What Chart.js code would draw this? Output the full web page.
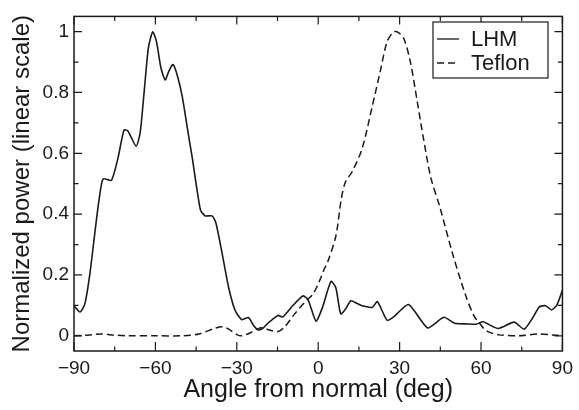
<!DOCTYPE html>
<html>
<head>
<meta charset="utf-8">
<script src="https://cdn.jsdelivr.net/npm/chart.js@4.4.0/dist/chart.umd.min.js"></script>
<style>
    html, body { margin: 0; padding: 0; background: #fff; }
    #wrap { width: 579px; height: 410px; }
</style>
</head>
<body>
<div id="wrap"><canvas id="beamChart"></canvas></div>
<script>
    // Measured beam profiles (angle in degrees, normalized power)
    const lhmAngles = [-90, -87.8, -86, -84.2, -82.3, -80.8, -79.3, -76.2, -73.8, -71.6, -70.2, -67.1, -65.6, -64.1, -62.6, -61,
        -59.6, -58, -56.4, -55, -53.5, -51.9, -50.1, -47.6, -46.4, -43.4, -41.6, -39.1, -37.7, -35.5, -33, -30.6,
        -28.2, -25.7, -23.9, -22.1, -20.3, -18.4, -17.2, -14.8, -13, -9.9, -5.7, -3.8, -0.8, 1.6, 4.7, 6.5, 8.3,
        10.1, 12, 14.4, 16.2, 19.9, 21.8, 25.4, 27.8, 33.3, 40.3, 46.3, 50.3, 55, 58.2, 60.7, 66.3, 72.2, 75.9,
        78.9, 81.5, 83.8, 86, 88, 90];
    const lhmPower = [0.099, 0.078, 0.105, 0.20, 0.34, 0.445, 0.516, 0.511, 0.584, 0.676, 0.674, 0.623, 0.669, 0.807, 0.946, 0.999,
        0.967, 0.882, 0.841, 0.871, 0.892, 0.855, 0.786, 0.648, 0.584, 0.413, 0.394, 0.394, 0.371, 0.275, 0.158, 0.083,
        0.053, 0.060, 0.035, 0.019, 0.025, 0.043, 0.051, 0.067, 0.062, 0.094, 0.131, 0.120, 0.048, 0.094, 0.179, 0.158, 0.072,
        0.088, 0.115, 0.106, 0.099, 0.093, 0.112, 0.051, 0.062, 0.103, 0.026, 0.061, 0.041, 0.039, 0.038, 0.046, 0.024, 0.045, 0.022,
        0.057, 0.095, 0.099, 0.085, 0.102, 0.15];

    const teflonAngles = [-90, -85, -80, -75, -70, -60, -50, -44, -38, -35.5, -33, -30, -28.2, -25, -23.3, -20.5, -18.4,
        -14.8, -12.3, -8.7, -5, -2, 0.4, 2.3, 3.5, 6.5, 8.5, 10, 12.6, 16.2, 19.9, 22.9, 25.4, 27.8, 29.6, 31.5,
        33.9, 36.4, 38.8, 41.5, 44.8, 49.7, 54.6, 57.6, 59.5, 61.3, 63, 66.7, 74, 81.3, 86, 90];
    const teflonPower = [0, 0.002, 0.006, 0.002, 0, 0, 0, 0.006, 0.025, 0.030, 0.022, 0.004, 0, 0.010, 0.019, 0.027, 0.020,
        0.014, 0.030, 0.072, 0.110, 0.136, 0.179, 0.221, 0.243, 0.328, 0.45, 0.505, 0.541, 0.616, 0.754, 0.871, 0.967, 0.999, 0.997, 0.978,
        0.903, 0.775, 0.648, 0.52, 0.424, 0.264, 0.126, 0.062, 0.041, 0.021, 0.012, 0.003, 0, 0.006, 0.003, 0];

    const xTicks = [-90, -60, -30, 0, 30, 60, 90];
    const xTickLabels = ['\u221290', '\u221260', '\u221230', '0', '30', '60', '90'];
    const yTicks = [0, 0.2, 0.4, 0.6, 0.8, 1];
    const yTickLabels = ['0', '0.2', '0.4', '0.6', '0.8', '1'];

    const FONT = '"Liberation Sans", Arial, Helvetica, sans-serif';
    const INK = '#1a1a1a';

    function toPoints(xs, ys) {
        return xs.map((x, i) => ({ x: x, y: ys[i] }));
    }

    // Frame with inward major/minor ticks on all four sides, plus boxed legend
    const framePlugin = {
        id: 'frame',
        afterDraw(chart) {
            const ctx = chart.ctx;
            const area = chart.chartArea;
            const xs = chart.scales.x;
            const ys = chart.scales.y;

            ctx.save();
            ctx.strokeStyle = INK;
            ctx.lineWidth = 1.5;
            ctx.strokeRect(area.left, area.top, area.right - area.left, area.bottom - area.top);

            ctx.lineWidth = 1.2;
            ctx.beginPath();
            xTicks.forEach((v, i) => {
                const px = xs.getPixelForValue(v);
                ctx.moveTo(px, area.bottom); ctx.lineTo(px, area.bottom - 9);
                ctx.moveTo(px, area.top); ctx.lineTo(px, area.top + 8);
                if (i < xTicks.length - 1) {
                    const mx = xs.getPixelForValue((v + xTicks[i + 1]) / 2);
                    ctx.moveTo(mx, area.bottom); ctx.lineTo(mx, area.bottom - 4.5);
                    ctx.moveTo(mx, area.top); ctx.lineTo(mx, area.top + 4.5);
                }
            });
            yTicks.forEach((v, i) => {
                const py = ys.getPixelForValue(v);
                ctx.moveTo(area.left, py); ctx.lineTo(area.left + 8, py);
                ctx.moveTo(area.right, py); ctx.lineTo(area.right - 8, py);
                if (i < yTicks.length - 1) {
                    const my = ys.getPixelForValue((v + yTicks[i + 1]) / 2);
                    ctx.moveTo(area.left, my); ctx.lineTo(area.left + 4.5, my);
                    ctx.moveTo(area.right, my); ctx.lineTo(area.right - 4.5, my);
                }
            });
            ctx.stroke();

            // legend box
            const box = { left: 433, top: 22, width: 115, height: 56 };
            ctx.fillStyle = '#fff';
            ctx.fillRect(box.left, box.top, box.width, box.height);
            ctx.lineWidth = 1.2;
            ctx.strokeRect(box.left, box.top, box.width, box.height);

            ctx.font = '22px ' + FONT;
            ctx.textBaseline = 'middle';
            ctx.fillStyle = INK;
            chart.data.datasets.forEach((ds, i) => {
                const cy = box.top + 17 + i * 24;
                ctx.save();
                ctx.lineWidth = 1.3;
                ctx.setLineDash(ds.borderDash || []);
                ctx.beginPath();
                ctx.moveTo(box.left + 4, cy);
                ctx.lineTo(box.left + 26, cy);
                ctx.stroke();
                ctx.restore();
                ctx.fillText(ds.label, box.left + 38, cy + 1);
            });
            ctx.restore();
        }
    };

    const chart = new Chart(document.getElementById('beamChart'), {
        type: 'line',
        data: {
            datasets: [{
                label: 'LHM',
                data: toPoints(lhmAngles, lhmPower),
                borderColor: INK,
                borderWidth: 1.6,
                pointRadius: 0,
                tension: 0.2,
                fill: false
            }, {
                label: 'Teflon',
                data: toPoints(teflonAngles, teflonPower),
                borderColor: INK,
                borderWidth: 1.5,
                borderDash: [7, 4],
                pointRadius: 0,
                tension: 0.3,
                fill: false
            }]
        },
        options: {
            responsive: true,
            maintainAspectRatio: false,
            animation: false,
            layout: { padding: { top: 7, right: 12, left: 0, bottom: 0 } },
            plugins: {
                legend: { display: false },
                tooltip: { enabled: false }
            },
            scales: {
                x: {
                    type: 'linear',
                    min: -90,
                    max: 90,
                    grid: { display: false, drawTicks: false },
                    border: { display: false },
                    afterBuildTicks: (scale) => { scale.ticks = xTicks.map(v => ({ value: v })); },
                    afterFit: (scale) => { scale.height = 59; },
                    ticks: {
                        padding: 6,
                        color: INK,
                        font: { family: FONT, size: 19 },
                        maxRotation: 0,
                        callback: (value) => xTickLabels[xTicks.indexOf(value)]
                    },
                    title: {
                        display: true,
                        text: 'Angle from normal (deg)',
                        color: INK,
                        font: { family: FONT, size: 25 },
                        padding: { top: 0, bottom: 5 }
                    }
                },
                y: {
                    min: -0.05,
                    max: 1.05,
                    grid: { display: false, drawTicks: false },
                    border: { display: false },
                    afterBuildTicks: (scale) => { scale.ticks = yTicks.map(v => ({ value: v })); },
                    afterFit: (scale) => { scale.width = 74; },
                    ticks: {
                        padding: 5,
                        color: INK,
                        font: { family: FONT, size: 19 },
                        callback: (value) => yTickLabels[yTicks.indexOf(value)]
                    },
                    title: {
                        display: true,
                        text: 'Normalized power (linear scale)',
                        color: INK,
                        font: { family: FONT, size: 24 },
                        padding: { top: 8, bottom: 0 }
                    }
                }
            }
        },
        plugins: [framePlugin]
    });
</script>
</body>
</html>
